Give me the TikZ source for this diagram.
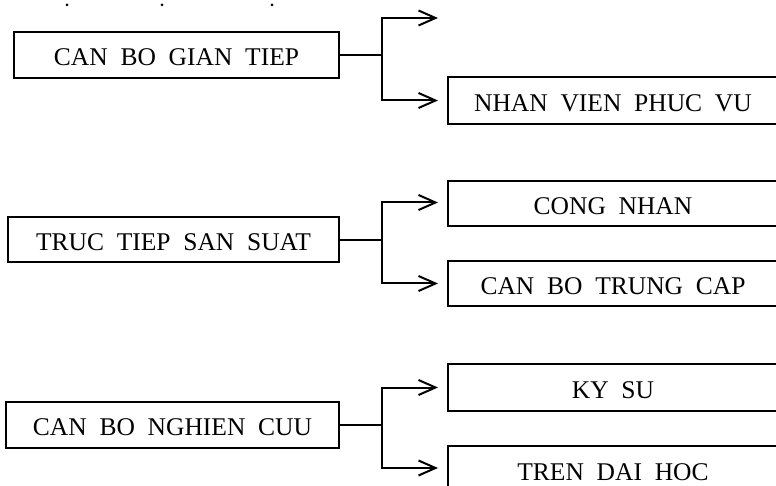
\documentclass[tikz,border=0pt]{standalone}
\usepackage{fontspec}
\setmainfont{Liberation Serif}
\usetikzlibrary{arrows.meta,positioning,calc}

\begin{document}
\begin{tikzpicture}[
  x=1pt,y=-1pt,
  font=\fontsize{25.5}{30}\selectfont,
  box/.style={draw,line width=2pt,inner sep=0pt,outer sep=0pt,
              text height=22pt,text depth=0pt,minimum height=46pt},
  rbox/.style={box,minimum width=330pt},
  lnk/.style={line width=2pt},
  arr/.style={-{Straight Barb[length=17pt,width=15pt,line width=2pt]},line width=2pt}]
\useasboundingbox (0,0) rectangle (776,486);
\clip (0,0) rectangle (776,486);
\foreach \x in {67,162,272} \fill (\x,5) circle (1.5pt);
% left column
\node[box,minimum width=325pt] (gt) at (176.5,55) {CAN~~BO~~GIAN~~TIEP};
\node[box,minimum width=331pt,minimum height=45pt] (tt) at (173.5,240) {TRUC~~TIEP~~SAN~~SUAT};
\node[box,minimum width=333pt] (nc) at (172.5,424.5) {CAN~~BO~~NGHIEN~~CUU};
% right column
\coordinate (up) at (438,18);
\node[rbox,minimum height=47pt] (nv) at (613,100.5) {NHAN~~VIEN~~PHUC~~VU};
\node[rbox,minimum height=45pt] (cn) at (613,203.5) {CONG~~NHAN};
\node[rbox,minimum height=45pt] (tc) at (613,283.5) {CAN~~BO~~TRUNG~~CAP};
\node[rbox,minimum height=47pt] (ks) at (613,387.5) {KY~~SU};
\node[rbox] (dh) at (613,469) {TREN~~DAI~~HOC};
% junctions
\coordinate (j1) at ($(gt.east)+(43,0)$);
\coordinate (j2) at ($(tt.east)+(43,0)$);
\coordinate (j3) at ($(nc.east)+(43,0)$);
\draw[lnk] (gt.east)--(j1);
\draw[lnk] (tt.east)--(j2);
\draw[lnk] (nc.east)--(j3);
\draw[arr] (j1) |- (up);
\draw[arr] (j1) |- ($(nv.west)+(-10,0)$);
\draw[arr] (j2) |- ($(cn.west)+(-10,-1)$);
\draw[arr] (j2) |- ($(tc.west)+(-10,0)$);
\draw[arr] (j3) |- ($(ks.west)+(-10,0)$);
\draw[arr] (j3) |- ($(dh.west)+(-10,-1)$);
\end{tikzpicture}
\end{document}
